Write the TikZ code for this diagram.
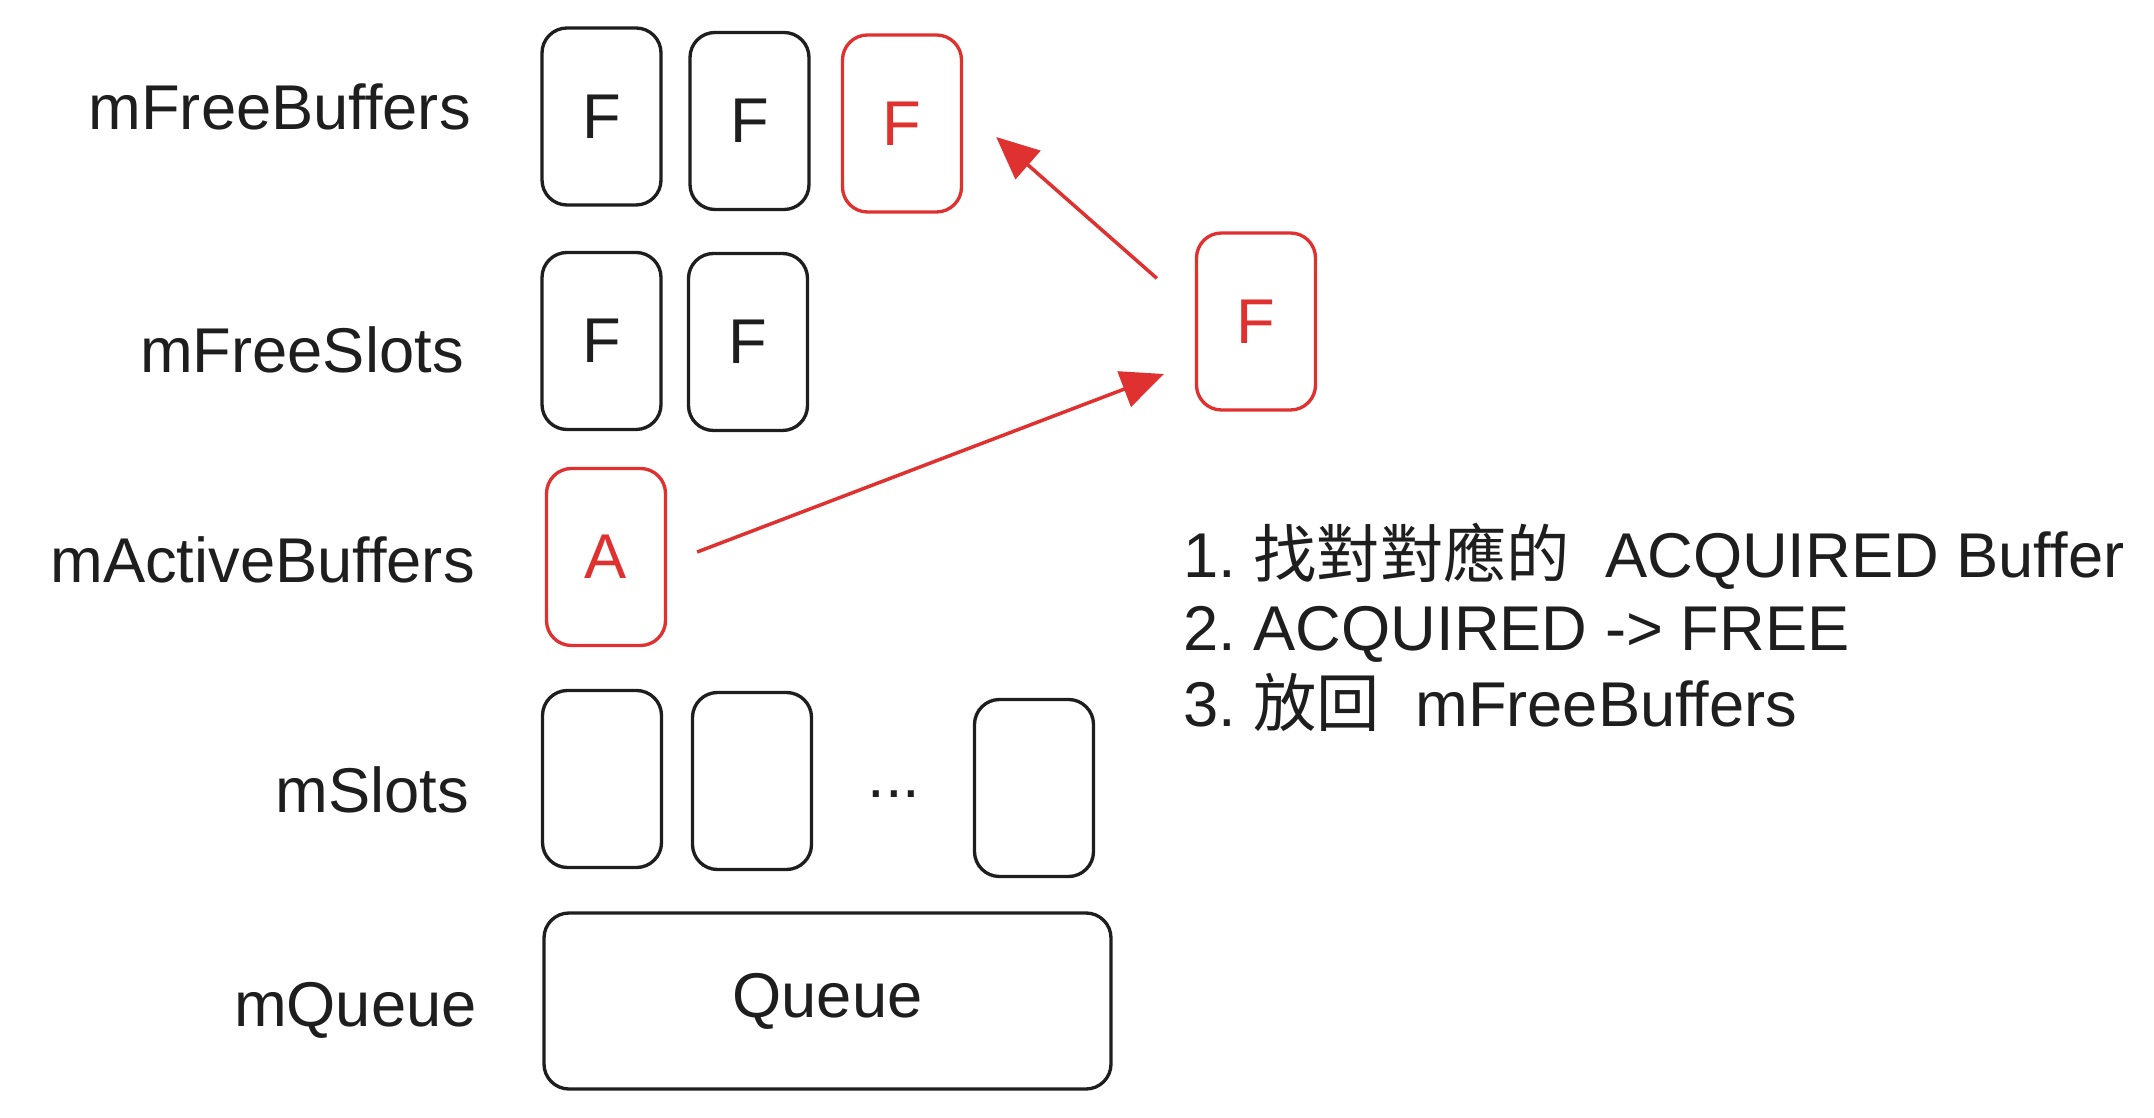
\documentclass[tikz,border=0pt]{standalone}
\usepackage{fontspec}
\setmainfont{Liberation Sans}
\newfontfamily\cjkfont{Noto Sans CJK TC}
\usepackage{tikz}
\usetikzlibrary{arrows.meta}
\definecolor{inkblack}{HTML}{1E1E1E}
\definecolor{inkred}{HTML}{E03131}
\tikzset{
  cell/.style={draw=inkblack, line width=1.9pt, rounded corners=0.5cm, minimum width=2.38cm, minimum height=3.54cm, inner sep=0pt, text=inkblack, font=\fontsize{36}{43}\selectfont},
  hot/.style={cell, draw=inkred, text=inkred},
  lbl/.style={anchor=base east, inner sep=0pt, text=inkblack, font=\fontsize{36}{43}\selectfont},
  note/.style={anchor=base west, inner sep=0pt, text=inkblack, font=\fontsize{36}{43}\selectfont},
  move/.style={draw=inkred, line width=2pt, -{Triangle[length=8.5mm, width=7.5mm]}}
}

\begin{document}
\begin{tikzpicture}
\useasboundingbox (0,0) rectangle (43.08,22.34);

\node[lbl] (lfb) at (9.42,19.74) {mFreeBuffers};
\node[lbl] (lfs) at (9.28,14.88) {mFreeSlots};
\node[lbl] (lab) at (9.50,10.68) {mActiveBuffers};
\node[lbl] (lsl) at (9.38,6.08) {mSlots};
\node[lbl] (lq) at (9.54,1.82) {mQueue};

\node[cell] (fb1) at (12.03,20.01) {F};
\node[cell] (fb2) at (14.99,19.92) {F};
\node[hot] (fb3) at (18.04,19.87) {F};

\node[cell] (fs1) at (12.03,15.52) {F};
\node[cell] (fs2) at (14.96,15.50) {F};

\node[hot] (act) at (12.12,11.20) {A};

\node[cell] (sl1) at (12.04,6.76) {};
\node[cell] (sl2) at (15.04,6.72) {};
\node[text=inkblack, font=\fontsize{36}{43}\selectfont] (dots) at (17.88,6.45) {...};
\node[cell] (sl3) at (20.68,6.58) {};

\node[cell, minimum width=11.34cm, minimum height=3.52cm] (queue) at (16.55,2.32) {Queue};

\node[hot] (redF) at (25.12,15.91) {F};

\draw[move] ([xshift=6mm,yshift=1mm]act.east) -- ([xshift=-6.2mm,yshift=-10.5mm]redF.west);
\draw[move] ([xshift=-7.6mm,yshift=-9.4mm]redF.north west) -- ([xshift=6.6mm,yshift=-2.7mm]fb3.east);

\node[note] (step1) at (23.66,10.78) {1.\ {\cjkfont 找對對應的}\ \ ACQUIRED Buffer};
\node[note] (step2) at ([yshift=-1.45cm]step1.base west) {2.\ ACQUIRED -> FREE};
\node[note] (step3) at ([yshift=-1.52cm]step2.base west) {3.\ {\cjkfont 放回}\ \ mFreeBuffers};
\end{tikzpicture}
\end{document}
